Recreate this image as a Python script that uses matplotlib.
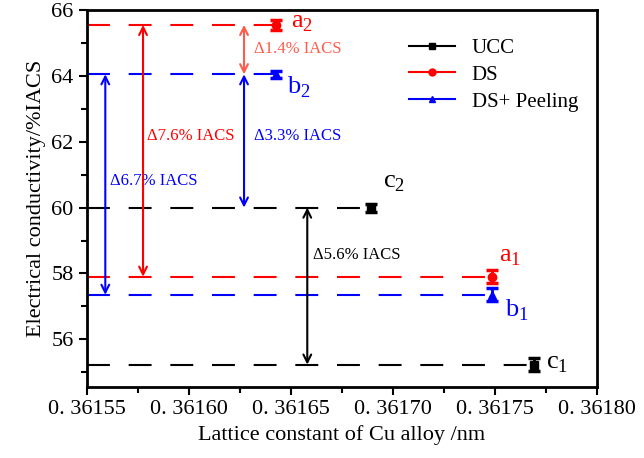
import matplotlib
matplotlib.use("Agg")
import matplotlib.pyplot as plt
from matplotlib.lines import Line2D
from matplotlib.ticker import MultipleLocator

plt.rcParams['font.family'] = ['Liberation Serif', 'DejaVu Serif']
plt.rcParams['mathtext.fontset'] = 'custom'
plt.rcParams['mathtext.rm'] = 'Liberation Serif'

# data: lattice constant (nm), conductivity (%IACS), error
ucc_x = [0.361769, 0.361689]
ucc_y = [55.23, 60.0]
ucc_err = [0.2, 0.12]
ucc_lab = ['c$_1$', 'c$_2$']

ds_x = [0.3617485, 0.3616426]
ds_y = [57.9, 65.55]
ds_err = [0.2, 0.15]
ds_lab = ['a$_1$', 'a$_2$']

pl_x = [0.3617485, 0.3616426]
pl_y = [57.35, 64.05]
pl_err = [0.2, 0.1]
pl_lab = ['b$_1$', 'b$_2$']

# difference arrows: x position, y from, y to, label
diff_x = [0.361658, 0.361559, 0.3615775, 0.361627, 0.361627]
diff_y0 = [55.23, 57.35, 57.9, 60.0, 64.05]
diff_y1 = [60.0, 64.05, 65.55, 64.05, 65.55]
diff_txt = ['Δ5.6% IACS', 'Δ6.7% IACS', 'Δ7.6% IACS', 'Δ3.3% IACS', 'Δ1.4% IACS']
diff_col = ['black', '#0000ff', '#ff0000', '#0000ff', '#ff5a4a']
txt_x = [0.361661, 0.3615613, 0.3615794, 0.361632, 0.361632]
txt_y = [58.55, 60.82, 62.17, 62.17, 64.83]

x_ticks = [0.36155, 0.36160, 0.36165, 0.36170, 0.36175, 0.36180]
x_ticklabels = ['0. 36155', '0. 36160', '0. 36165', '0. 36170', '0. 36175', '0. 36180']

xmin, xmax = 0.36155, 0.36180

fig, ax = plt.subplots(figsize=(6.44, 4.58), dpi=100)
fig.subplots_adjust(left=0.135, right=0.927, top=0.978, bottom=0.155)

series = [
    (ucc_x, ucc_y, ucc_err, ucc_lab, 'black', 's', 'UCC'),
    (ds_x, ds_y, ds_err, ds_lab, '#ff0000', 'o', 'DS'),
    (pl_x, pl_y, pl_err, pl_lab, '#0000ff', '^', 'DS+ Peeling'),
]
lab_pos = {
    'UCC': [(0.361775, 55.25), (0.361695, 60.75)],
    'DS': [(0.361752, 58.5), (0.36165, 65.62)],
    'DS+ Peeling': [(0.361755, 56.87), (0.361648, 63.65)],
}

handles = []
for xs, ys, errs, labs, col, mk, name in series:
    # dashed guide from the y axis to the point
    for x, y in zip(xs, ys):
        ax.hlines(y, xmin, x, colors=col, linestyles=(0, (11, 9)), linewidth=1.5)
    ax.errorbar(xs, ys, yerr=errs, fmt=mk, color=col, ms=6, capsize=4,
                elinewidth=2, capthick=2.5, zorder=5)
    for (lx, ly), lab in zip(lab_pos[name], labs):
        ax.text(lx, ly, lab, color=col, fontsize=19, va='center', ha='left')
    handles.append(Line2D([], [], color=col, marker=mk, ms=5, lw=1.5, label=name))

for x, y0, y1, t, c, tx, ty in zip(diff_x, diff_y0, diff_y1, diff_txt, diff_col, txt_x, txt_y):
    ax.annotate('', xy=(x, y0), xytext=(x, y1),
                arrowprops=dict(arrowstyle='<->', color=c, lw=1.5,
                                shrinkA=0, shrinkB=0, mutation_scale=14))
    ax.text(tx, ty, t, color=c, fontsize=12, va='center', ha='left')

ax.set_xlim(xmin, xmax)
ax.set_ylim(54.55, 66)
ax.set_xticks(x_ticks)
ax.set_xticklabels(x_ticklabels)
ax.xaxis.set_minor_locator(MultipleLocator(0.000025))
ax.yaxis.set_major_locator(MultipleLocator(2))
ax.yaxis.set_minor_locator(MultipleLocator(1))
ax.tick_params(which='major', length=6, width=1.5, labelsize=16, direction='out')
ax.tick_params(which='minor', length=4, width=1.5, direction='out')
for s in ax.spines.values():
    s.set_linewidth(2)

ax.set_xlabel('Lattice constant of Cu alloy /nm', fontsize=16)
ax.set_ylabel('Electrical conductivity/%IACS', fontsize=16)

ax.legend(handles=handles, loc='upper right', frameon=False, fontsize=15,
          handlelength=2.2, bbox_to_anchor=(1.0, 0.975), labelspacing=0.35)

fig.savefig('out.png', dpi=100)
